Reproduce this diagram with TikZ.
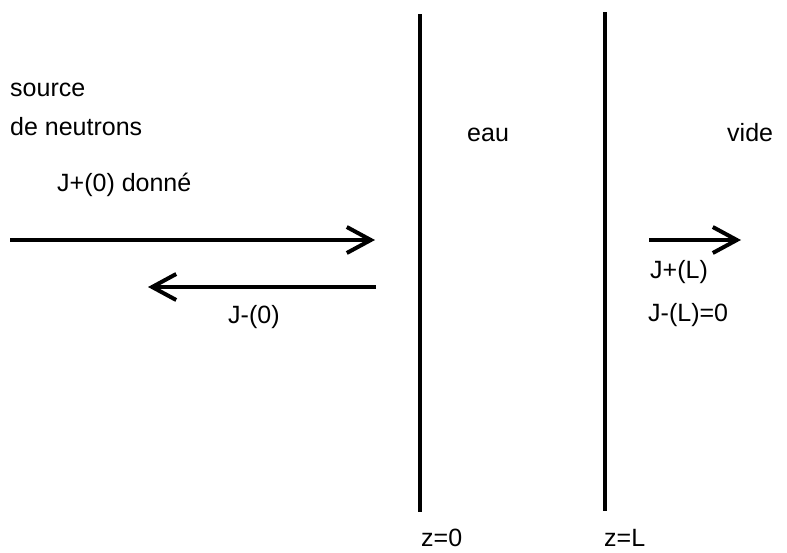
\documentclass[tikz,border=0pt]{standalone}
\usepackage{fontspec}
\setmainfont{Liberation Sans}
\usetikzlibrary{arrows.meta}
\begin{document}
\begin{tikzpicture}[x=1pt,y=-1pt,
  lbl/.style={anchor=base west,inner sep=0pt,font=\fontsize{25}{29}\selectfont},
  wall/.style={line width=4.5pt},
  flux/.style={line width=4pt,-{Straight Barb[length=24pt,width=26pt]}}]
\useasboundingbox (0,0) rectangle (787,552);
% walls
\coordinate (w1t) at (420,14);
\coordinate (w1b) at (420,512);
\coordinate (w2t) at (605,12);
\coordinate (w2b) at (605,511);
\draw[wall] (w1t) -- (w1b);
\draw[wall] (w2t) -- (w2b);
% arrows
\coordinate (a1s) at (10,240);
\coordinate (a1e) at (375,240);
\coordinate (a2s) at (376,287);
\coordinate (a2e) at (148,287);
\coordinate (a3s) at (649,240);
\coordinate (a3e) at (741,240);
\draw[flux] (a1s) -- (a1e);
\draw[flux] (a2s) -- (a2e);
\draw[flux] (a3s) -- (a3e);
% labels
\node[lbl] (src) at (10,96) {source};
\node[lbl] (neu) at (10,135) {de neutrons};
\node[lbl] (jp0) at (57,191) {J+(0) donné};
\node[lbl] (eau) at (467,141) {eau};
\node[lbl] (vide) at (727,141) {vide};
\node[lbl] (jm0) at (228,323) {J-(0)};
\node[lbl] (jpl) at (650,278) {J+(L)};
\node[lbl] (jml) at (648,321) {J-(L)=0};
\node[lbl] (z0) at (421,546) {z=0};
\node[lbl] (zl) at (604,546) {z=L};
\end{tikzpicture}
\end{document}
